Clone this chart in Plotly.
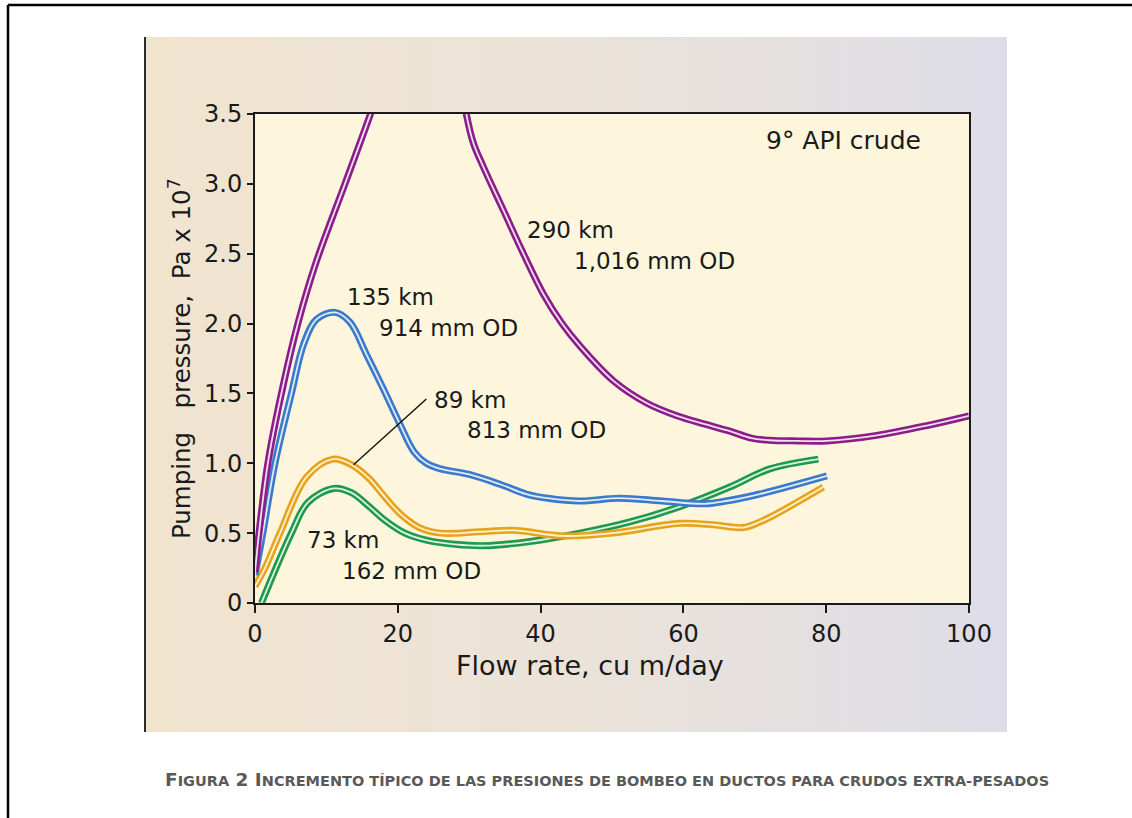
import plotly.graph_objects as go

# Pipeline curves: flow rate (cu m/day) vs pumping pressure (Pa x 10^7)
flow_290 = [0, 0.56, 1.8, 3.7, 6.0, 8.5, 12.6, 16.1, 16.6, None,
            29.4, 29.6, 30.6, 32.0, 34.8, 37.6, 40.4, 43.0, 45.5, 50.2, 54.9, 59.1,
            63.0, 66.5, 69.5, 72.0, 76.0, 80.1, 87.1, 94.1, 100]
pres_290 = [0.22, 0.50, 1.00, 1.50, 2.00, 2.43, 3.00, 3.49, 3.57, None,
            3.57, 3.50, 3.29, 3.12, 2.81, 2.50, 2.21, 2.00, 1.84, 1.59, 1.43, 1.34,
            1.28, 1.23, 1.18, 1.165, 1.16, 1.16, 1.20, 1.27, 1.34]

flow_135 = [0, 1.1, 2.8, 5.1, 6.8, 8.6, 11.2, 13.3, 15.6, 18.0, 20.3, 22.3, 24.0, 26.0,
            30.0, 34.3, 38.0, 41.0, 45.5, 51.0, 57.0, 63.0, 66.0, 70.7, 80.1]
pres_135 = [0.20, 0.50, 1.00, 1.50, 1.85, 2.03, 2.08, 2.01, 1.78, 1.53, 1.28, 1.08, 1.00, 0.96,
            0.92, 0.85, 0.78, 0.75, 0.73, 0.75, 0.73, 0.71, 0.73, 0.78, 0.91]

flow_89 = [0, 1.4, 3.5, 7.2, 10.9, 13.5, 16.0, 18.0, 20.3, 23.0, 26.0, 31.5, 36.2, 43.1,
           50.1, 59.5, 64.2, 68.4, 70.7, 73.1, 79.6]
pres_89 = [0.12, 0.25, 0.50, 0.90, 1.03, 0.99, 0.89, 0.77, 0.64, 0.54, 0.50, 0.51, 0.52, 0.48,
           0.50, 0.57, 0.56, 0.54, 0.58, 0.64, 0.83]

flow_73 = [0.9, 5.1, 7.4, 11.0, 13.5, 16.0, 18.0, 21.0, 24.0, 28.0, 32.0, 38.5, 45.5, 52.5,
           59.5, 66.5, 72.1, 78.9]
pres_73 = [0.0, 0.50, 0.72, 0.82, 0.79, 0.69, 0.60, 0.50, 0.45, 0.42, 0.41, 0.44, 0.50, 0.58,
           0.69, 0.83, 0.96, 1.03]

x_ticks = [0, 20, 40, 60, 80, 100]
y_ticks = [0, 0.5, 1.0, 1.5, 2.0, 2.5, 3.0, 3.5]
y_tick_text = ["0", "0.5", "1.0", "1.5", "2.0", "2.5", "3.0", "3.5"]

# (flow, pressure, outer stroke, inner highlight)
series = [
    (flow_73, pres_73, "#1f9a4c", "#dcf2e2"),
    (flow_89, pres_89, "#e6a41e", "#fdf3d2"),
    (flow_135, pres_135, "#3b79cb", "#e0ebf8"),
    (flow_290, pres_290, "#8b1d8b", "#f3dff2"),
]

FONT = "DejaVu Sans"
W, H = 1132, 818
ML, MR, MT, MB = 255, 163, 114, 215
PW, PH = W - ML - MR, H - MT - MB


def px_x(p):
    return (p - ML) / PW


def px_y(p):
    return (H - MB - p) / PH


fig = go.Figure()

for fx, fy, col, hi in series:
    fig.add_trace(go.Scatter(x=fx, y=fy, mode="lines", hoverinfo="skip",
                             line=dict(color=col, width=7, shape="spline", smoothing=1.0)))
    fig.add_trace(go.Scatter(x=fx, y=fy, mode="lines", hoverinfo="skip",
                             line=dict(color=hi, width=1.8, shape="spline", smoothing=1.0)))


def mix(c1, c2, t):
    a = [int(c1[i:i + 2], 16) for i in (1, 3, 5)]
    b = [int(c2[i:i + 2], 16) for i in (1, 3, 5)]
    return "rgb(%d,%d,%d)" % tuple(round(a[k] + (b[k] - a[k]) * t) for k in range(3))


shapes = []
# panel background: warm beige on the left fading to pale lavender on the right
x0p, x1p = px_x(145), px_x(1007)
y0p, y1p = px_y(732), px_y(37)
n = 60
stops = ["#f1e4cf", "#ebe3d9", "#dedde7"]
for i in range(n):
    t = i / (n - 1)
    if t < 0.5:
        c = mix(stops[0], stops[1], t / 0.5)
    else:
        c = mix(stops[1], stops[2], (t - 0.5) / 0.5)
    xa = x0p + (x1p - x0p) * i / n
    xb = x0p + (x1p - x0p) * (i + 1) / n + 0.002
    shapes.append(dict(type="rect", xref="paper", yref="paper", x0=xa, x1=min(xb, x1p),
                       y0=y0p, y1=y1p, fillcolor=c, line=dict(width=0), layer="below"))
# cream plotting area
shapes.append(dict(type="rect", xref="paper", yref="paper", x0=0, x1=1, y0=0, y1=1,
                   fillcolor="#fef6dc", line=dict(width=0), layer="below"))
# dark left edge of the panel
shapes.append(dict(type="line", xref="paper", yref="paper", x0=x0p, x1=x0p, y0=y0p, y1=y1p,
                   line=dict(color="#2a2a2a", width=2)))
# page frame (top and left rules)
shapes.append(dict(type="line", xref="paper", yref="paper", x0=px_x(8), x1=px_x(W + 5),
                   y0=px_y(5), y1=px_y(5), line=dict(color="#000", width=2.5)))
shapes.append(dict(type="line", xref="paper", yref="paper", x0=px_x(8), x1=px_x(8),
                   y0=px_y(5), y1=px_y(H + 5), line=dict(color="#000", width=2.5)))
# leader from the 89 km label to its curve
shapes.append(dict(type="line", xref="x", yref="y", x0=13.8, y0=0.99, x1=24.0, y1=1.46,
                   line=dict(color="#111", width=1.4)))

txt = dict(color="#1a1a1a", family=FONT)
annotations = [
    dict(x=71.3, y=3.31, text="9° API crude", font=dict(size=25, **txt)),
    dict(x=37.8, y=2.67, text="290 km", font=dict(size=23, **txt)),
    dict(x=44.4, y=2.45, text="1,016 mm OD", font=dict(size=23, **txt)),
    dict(x=12.6, y=2.19, text="135 km", font=dict(size=23, **txt)),
    dict(x=17.1, y=1.97, text="914 mm OD", font=dict(size=23, **txt)),
    dict(x=24.8, y=1.45, text="89 km", font=dict(size=23, **txt)),
    dict(x=29.4, y=1.24, text="813 mm OD", font=dict(size=23, **txt)),
    dict(x=7.0, y=0.45, text="73 km", font=dict(size=23, **txt)),
    dict(x=11.9, y=0.23, text="162 mm OD", font=dict(size=23, **txt)),
]
for a in annotations:
    a.update(xref="x", yref="y", xanchor="left", yanchor="middle", showarrow=False)

# axis titles
annotations.append(dict(xref="paper", yref="paper", x=px_x(590), y=px_y(665),
                        text="Flow rate, cu m/day", showarrow=False,
                        xanchor="center", yanchor="middle", font=dict(size=27, **txt)))
annotations.append(dict(xref="paper", yref="paper", x=px_x(180), y=px_y(359),
                        text="Pumping\u00a0\u00a0 pressure,\u00a0 Pa x 10<sup>7</sup>",
                        textangle=-90, showarrow=False,
                        xanchor="center", yanchor="middle", font=dict(size=24.5, **txt)))

# figure caption in small caps
small = 'style="font-size:14.5px"'
caption = ("<b>F<span %s>IGURA</span> 2 I<span %s>NCREMENTO TÍPICO DE LAS PRESIONES DE "
           "BOMBEO EN DUCTOS PARA CRUDOS EXTRA-PESADOS</span></b>") % (small, small)
annotations.append(dict(xref="paper", yref="paper", x=px_x(163), y=px_y(779),
                        text=caption, showarrow=False, xanchor="left", yanchor="middle",
                        font=dict(size=18.5, color="#595959", family=FONT)))

axis_common = dict(showline=True, linecolor="#1a1a1a", linewidth=2, mirror=True,
                   showgrid=False, zeroline=False, ticks="outside", tickwidth=2,
                   tickcolor="#1a1a1a", tickfont=dict(size=24, color="#1a1a1a", family=FONT))

fig.update_layout(
    width=W, height=H,
    margin=dict(l=ML, r=MR, t=MT, b=MB, pad=0),
    paper_bgcolor="white", plot_bgcolor="rgba(0,0,0,0)",
    showlegend=False,
    shapes=shapes, annotations=annotations,
    xaxis=dict(range=[0, 100], tickvals=x_ticks, ticklen=8, **axis_common),
    yaxis=dict(range=[0, 3.5], tickvals=y_ticks, ticktext=y_tick_text, ticklen=6,
               **axis_common),
)

fig.write_html("out.html")
